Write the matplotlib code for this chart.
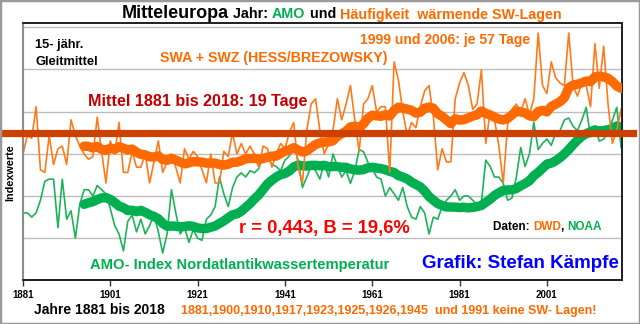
import numpy as np
import pandas as pd
import matplotlib
matplotlib.use("Agg")
import matplotlib.pyplot as plt
from matplotlib.patches import Rectangle

plt.rcParams["font.family"] = ["Liberation Sans", "DejaVu Sans"]

# ============================================================
# DATEN
# ============================================================
years = np.arange(1881, 2019)

# Tage mit SWA + SWZ (Hess/Brezowsky)
sw_days = [
    11, 18, 17, 29, 5, 4, 18, 7, 13, 14, 7, 24, 18, 14, 11,
    9, 10, 25, 12, 0, 16, 11, 23, 4, 4, 12, 6, 6, 11, 0,
    8, 16, 4, 8, 11, 6, 0, 13, 9, 12, 10, 5, 0, 11, 0,
    0, 12, 10, 19, 11, 15, 11, 14, 11, 6, 14, 13, 6, 11, 15,
    13, 19, 23, 6, 0, 20, 30, 32, 20, 11, 15, 20, 32, 24, 30,
    37, 24, 12, 30, 32, 37, 27, 29, 29, 4, 46, 39, 27, 18, 23,
    21, 29, 35, 37, 25, 5, 13, 8, 8, 32, 38, 42, 37, 28, 30,
    43, 15, 27, 24, 14, 0, 22, 28, 30, 27, 32, 26, 32, 57, 37,
    34, 46, 40, 38, 37, 57, 37, 33, 38, 37, 29, 53, 36, 52, 30,
    15, 20, 28,
]

# AMO-Index (Jahresmittel)
amo = [
    -0.08, -0.08, -0.10, -0.08, -0.02, 0.07, 0.08, 0.08, -0.15, 0.08, -0.11, -0.07, -0.20, -0.04, 0.03,
    0.03, 0.00, 0.05, 0.03, 0.01, -0.06, -0.14, -0.18, -0.26, -0.12, -0.09, -0.17, -0.11, -0.18, -0.14,
    -0.09, -0.17, -0.27, -0.18, 0.03, -0.08, -0.18, -0.15, -0.22, -0.16, -0.20, -0.21, -0.11, -0.09, -0.05,
    0.09, 0.01, -0.05, 0.04, 0.09, 0.11, 0.09, 0.12, 0.11, 0.13, 0.19, 0.18, 0.15, 0.14, 0.12,
    0.17, 0.19, 0.24, 0.17, 0.04, 0.09, 0.14, 0.12, 0.08, 0.16, 0.09, 0.20, 0.14, 0.09, 0.12,
    0.06, 0.12, 0.22, 0.21, 0.16, 0.13, 0.09, 0.08, 0.00, 0.04, 0.01, -0.02, 0.04, -0.05, -0.10,
    -0.11, -0.05, -0.08, -0.18, -0.10, -0.11, -0.05, -0.02, 0.00, 0.03, -0.02, 0.00, 0.00, -0.02, -0.04,
    -0.03, 0.17, 0.14, 0.09, 0.09, 0.06, -0.02, -0.01, 0.09, 0.23, 0.14, 0.20, 0.35, 0.22, 0.25,
    0.27, 0.24, 0.30, 0.31, 0.36, 0.37, 0.33, 0.31, 0.36, 0.42, 0.28, 0.33, 0.26, 0.27, 0.30,
    0.36, 0.42, 0.23,
]

mittel_tage = 19
x_ticks = [1881, 1901, 1921, 1941, 1961, 1981, 2001]

# 15-jähriges Gleitmittel (nachlaufend)
df = pd.DataFrame({"jahr": years, "sw": sw_days, "amo": amo})
df["sw_15"] = df["sw"].rolling(15).mean()
df["amo_15"] = df["amo"].rolling(15).mean()

# ============================================================
# FARBEN
# ============================================================
ORANGE = "#FF6A00"
ORANGE_THIN = "#FF7A1A"
GREEN = "#00B050"
GREEN_THIN = "#1DB35A"
DARKRED = "#C00000"
BAR = "#CC4000"

W, H = 640, 324
fig = plt.figure(figsize=(W / 100, H / 100), dpi=100)
fig.patch.set_facecolor("white")

ax = fig.add_axes([23 / W, 1 - 280 / H, 599 / W, 257 / H])
ax2 = ax.twinx()

# AMO auf ax, Tage auf ax2
ax.plot(df["jahr"], df["amo"], color=GREEN_THIN, lw=1.2, zorder=2)
ax.plot(df["jahr"], df["amo_15"], color=GREEN, lw=6.8, solid_capstyle="round", zorder=3)
ax2.plot(df["jahr"], df["sw"], color=ORANGE_THIN, lw=1.2, zorder=2)
ax2.plot(df["jahr"], df["sw_15"], color=ORANGE, lw=6.8, solid_capstyle="round", zorder=3)

# Mittelwert-Balken, geht über den Plotbereich hinaus
ax2.axhline(mittel_tage, xmin=-23 / 599, xmax=610 / 599, color=BAR, lw=5.2,
            clip_on=False, zorder=5)

ax.set_xlim(1881, 2018.2)
ax.set_ylim(-0.398, 0.82)
ax2.set_ylim(-36.9, 60.8)

ax.set_yticks([-0.2, 0.0, 0.2, 0.4, 0.6, 0.8])
ax.yaxis.grid(True, color="#BDBDBD", lw=1)
ax.set_axisbelow(True)
ax.tick_params(axis="y", left=False, labelleft=False)
ax2.tick_params(axis="y", right=False, labelright=False)

ax.set_xticks(x_ticks)
ax.set_xticklabels([str(t) for t in x_ticks], fontsize=7, fontweight="bold")
ax.tick_params(axis="x", direction="out", length=4, width=1, pad=3, color="#333333")

for a in (ax, ax2):
    for side in ("top", "right", "bottom"):
        a.spines[side].set_color("#222222")
        a.spines[side].set_linewidth(1.3)
    a.spines["left"].set_color("#8C8C8C")
    a.spines["left"].set_linewidth(1.5)

# ============================================================
# TEXTE
# ============================================================
renderer = fig.canvas.get_renderer()


def text_row(x_px, y_px, parts, va="baseline"):
    x = x_px
    for s, c, sz in parts:
        t = fig.text(x / W, 1 - y_px / H, s, color=c, fontsize=sz,
                     fontweight="bold", ha="left", va=va)
        x += t.get_window_extent(renderer).width


def ftext(x_px, y_px, s, color, size, ha="left", **kw):
    fig.text(x_px / W, 1 - y_px / H, s, color=color, fontsize=size,
             fontweight="bold", ha=ha, va="center", **kw)


text_row(122, 18.5, [("Mitteleuropa", "black", 13),
                     (" Jahr: ", "black", 10.3),
                     ("AMO", GREEN, 10.3),
                     (" und ", "black", 10.3),
                     ("Häufigkeit  wärmende SW-Lagen", ORANGE, 10.3)])

ftext(35, 45, "15- jähr.", "black", 9.3)
ftext(35, 62, "Gleitmittel", "black", 9.3)
ftext(160, 58, "SWA + SWZ (HESS/BREZOWSKY)", ORANGE, 10.2)
ftext(360, 40, "1999 und 2006: je 57 Tage", ORANGE, 10)
ftext(88, 101, "Mittel 1881 bis 2018: 19 Tage", DARKRED, 11.6)
ftext(10, 173, "Indexwerte", "black", 7.8, ha="center", rotation=90)
ftext(239, 228, "r = 0,443, B = 19,6%", "#FF0000", 13.2)
text_row(493, 227, [("Daten: ", "black", 8.5), ("DWD", ORANGE, 8.5),
                    (", ", "black", 8.5), ("NOAA", GREEN, 8.5)], va="center")
ftext(90, 265, "AMO- Index Nordatlantikwassertemperatur", GREEN, 10.6)
ftext(422, 264, "Grafik: Stefan Kämpfe", "#0000FF", 13.5)
ftext(34, 310, "Jahre 1881 bis 2018", "black", 10)
ftext(181, 311, "1881,1900,1910,1917,1923,1925,1926,1945  und 1991 keine SW- Lagen!",
      ORANGE, 9)

# Rahmen um die ganze Grafik
fig.patches.append(Rectangle((0, 0), 1, 1, transform=fig.transFigure, fill=False,
                             edgecolor="#9A9A9A", lw=2.5))

fig.savefig("out.png", dpi=100)
